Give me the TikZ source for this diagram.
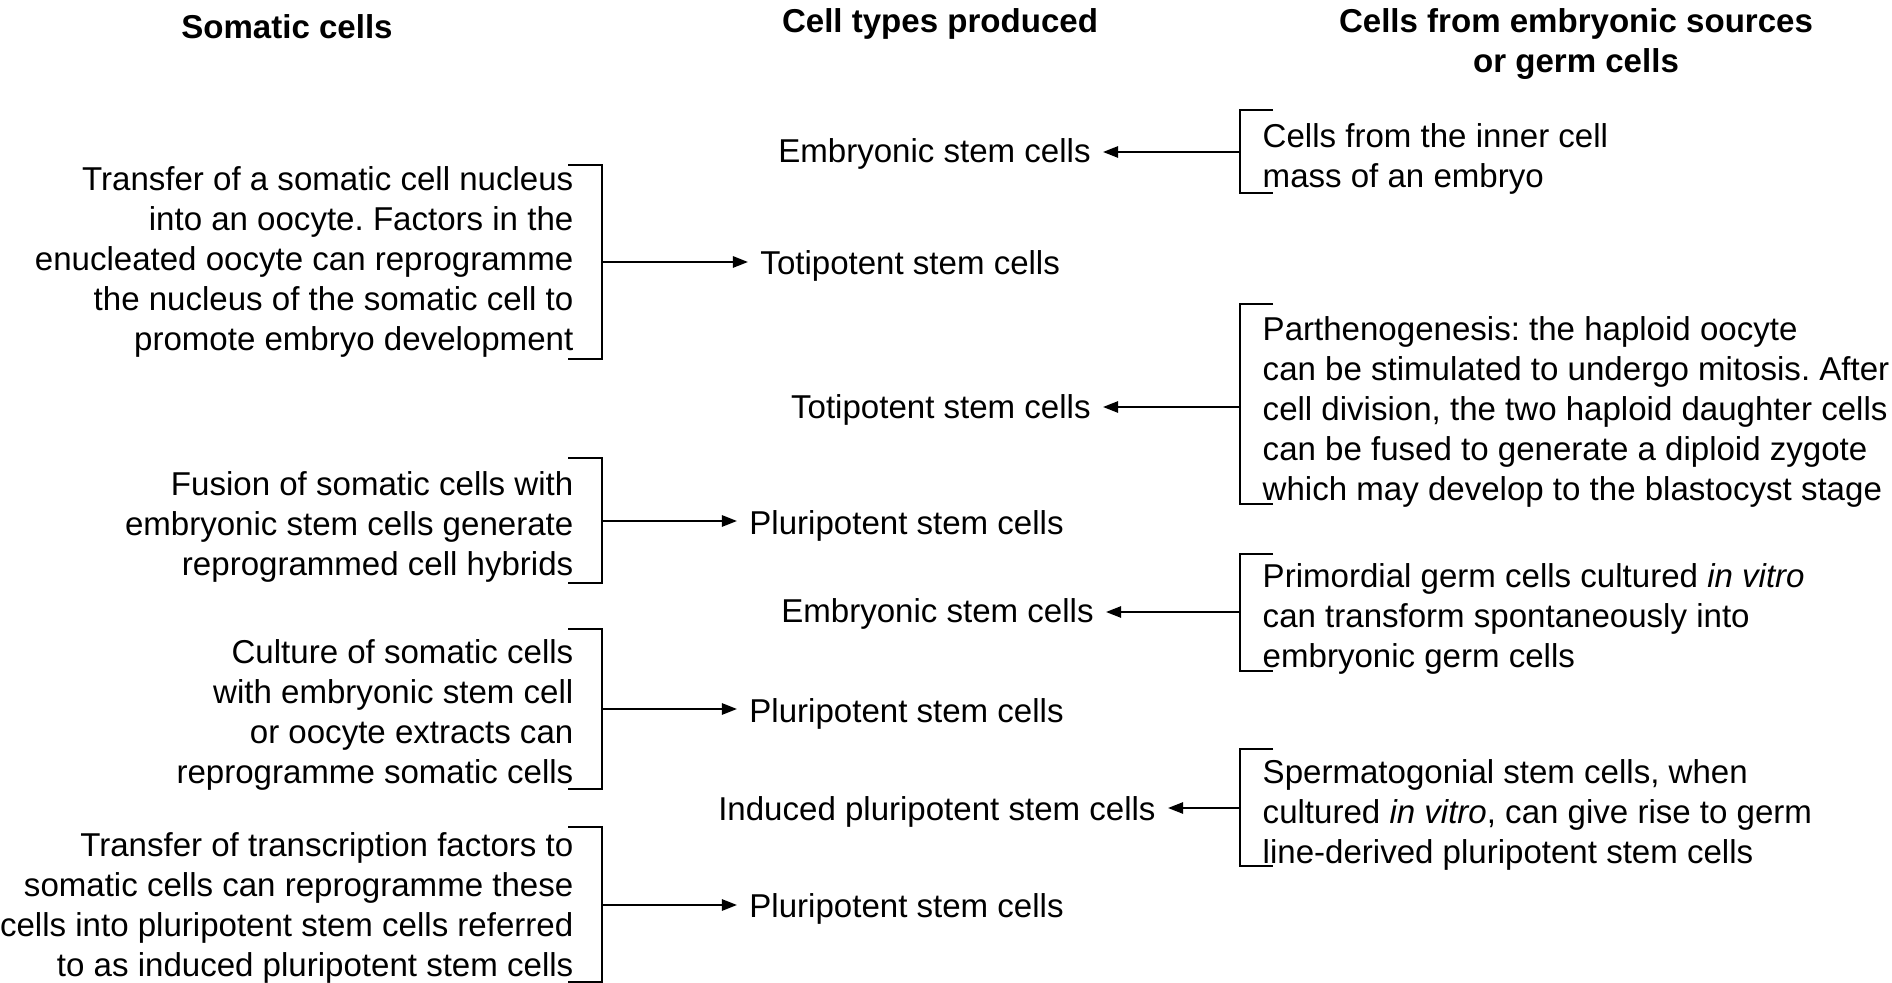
\documentclass[tikz,border=0pt]{standalone}
\usepackage{fontspec}
\setmainfont{Liberation Sans}
\usetikzlibrary{arrows.meta}
\frenchspacing

\begin{document}
\begin{tikzpicture}[
  x=0.01cm, y=-0.01cm,
  every node/.style={font=\fontsize{9.4}{11.4}\selectfont},
  >={Triangle[length=4.3pt,width=3.2pt]},
  hd/.style={font=\fontsize{9.4}{11.4}\selectfont\bfseries, align=center},
  som/.style={anchor=east, align=right, inner sep=0pt},
  emb/.style={anchor=west, align=left, inner sep=0pt},
  brk/.style={line width=0.8pt},
  arr/.style={->, line width=0.6pt}
]
  \useasboundingbox (0,0) rectangle (1892,983);

  % column heads
  \node[hd] (hsom) at (287,27) {Somatic cells};
  \node[hd] (hcell) at (940,24) {Cell types produced};
  \node[hd] (hemb) at (1576,44) {Cells from embryonic sources\\ or germ cells};

  % somatic cell routes
  \node[som] (s1) at (574,262) {Transfer of a somatic cell nucleus\\ into an oocyte. Factors in the\\ enucleated oocyte can reprogramme\\ the nucleus of the somatic cell to\\ promote embryo development};
  \node[som] (s2) at (574,527) {Fusion of somatic cells with\\ embryonic stem cells generate\\ reprogrammed cell hybrids};
  \node[som] (s3) at (574,715) {Culture of somatic cells\\ with embryonic stem cell\\ or oocyte extracts can\\ reprogramme somatic cells};
  \node[som] (s4) at (574,908) {Transfer of transcription factors to\\ somatic cells can reprogramme these\\ cells into pluripotent stem cells referred\\ to as induced pluripotent stem cells};

  \draw[brk] (568,165) -| (602,359) -- (568,359);
  \draw[brk] (568,458) -| (602,583) -- (568,583);
  \draw[brk] (568,629) -| (602,789) -- (568,789);
  \draw[brk] (568,827) -| (602,982) -- (568,982);
  \coordinate (s1r) at (602,262);
  \coordinate (s2r) at (602,521);
  \coordinate (s3r) at (602,709);
  \coordinate (s4r) at (602,905);

  % embryonic and germ cell sources
  \node[emb] (r1) at (1262,159) {Cells from the inner cell\\ mass of an embryo};
  \node[emb] (r2) at (1262,412) {Parthenogenesis: the haploid oocyte\\ can be stimulated to undergo mitosis. After\\ cell division, the two haploid daughter cells\\ can be fused to generate a diploid zygote\\ which may develop to the blastocyst stage};
  \node[emb] (r3) at (1262,619) {Primordial germ cells cultured \textit{in vitro}\\ can transform spontaneously into\\ embryonic germ cells};
  \node[emb] (r4) at (1262,815) {Spermatogonial stem cells, when\\ cultured \textit{in vitro}, can give rise to germ\\ line-derived pluripotent stem cells};

  \draw[brk] (1273,110) -| (1240,193) -- (1273,193);
  \draw[brk] (1273,304) -| (1240,504) -- (1273,504);
  \draw[brk] (1273,554) -| (1240,671) -- (1273,671);
  \draw[brk] (1273,749) -| (1240,866) -- (1273,866);
  \coordinate (r1l) at (1240,152);
  \coordinate (r2l) at (1240,407);
  \coordinate (r3l) at (1240,612);
  \coordinate (r4l) at (1240,808);

  % cell types produced
  \node[anchor=west] (p1) at (748,266) {Totipotent stem cells};
  \node[anchor=west] (p2) at (737,526) {Pluripotent stem cells};
  \node[anchor=west] (p3) at (737,714) {Pluripotent stem cells};
  \node[anchor=west] (p4) at (737,909) {Pluripotent stem cells};
  \node[anchor=east] (m1) at (1103,154) {Embryonic stem cells};
  \node[anchor=east] (m2) at (1103,410) {Totipotent stem cells};
  \node[anchor=east] (m3) at (1106,614) {Embryonic stem cells};
  \node[anchor=east] (m4) at (1168,812) {Induced pluripotent stem cells};

  \draw[arr] (s1r) -- (s1r -| p1.west);
  \draw[arr] (s2r) -- (s2r -| p2.west);
  \draw[arr] (s3r) -- (s3r -| p3.west);
  \draw[arr] (s4r) -- (s4r -| p4.west);
  \draw[arr] (r1l) -- (r1l -| m1.east);
  \draw[arr] (r2l) -- (r2l -| m2.east);
  \draw[arr] (r3l) -- (r3l -| m3.east);
  \draw[arr] (r4l) -- (r4l -| m4.east);
\end{tikzpicture}
\end{document}
